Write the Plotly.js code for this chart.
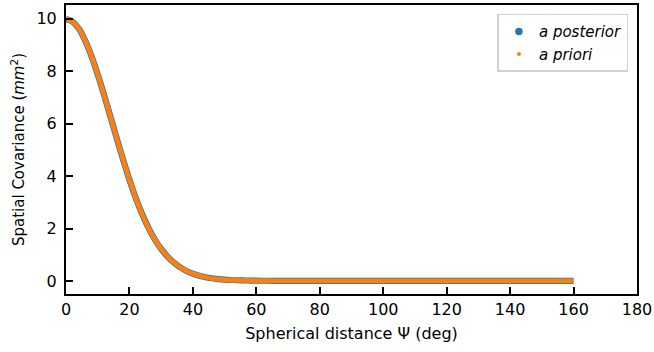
<!DOCTYPE html>
<html>
<head>
<meta charset="utf-8">
<script src="https://cdn.plot.ly/plotly-3.0.1.min.js"></script>
<style>html,body{margin:0;padding:0;background:#fff;}#chart{width:654px;height:352px;}</style>
</head>
<body>
<div id="chart"></div>
<script>
// Spherical distance (deg)
const psi = [0,2,4,6,8,10,12,14,16,18,20,22,24,26,28,30,32,34,36,38,40,42,44,46,48,50,52,54,56,58,60,65,70,80,90,100,110,120,130,140,150,160];
// a posteriori covariance (mm^2)
const covPosterior = [10.00,9.90,9.63,9.18,8.59,7.88,7.10,6.27,5.44,4.63,3.86,3.16,2.55,2.02,1.58,1.22,0.93,0.70,0.52,0.38,0.28,0.20,0.14,0.10,0.07,0.05,0.035,0.025,0.017,0.012,0.008,0.004,0.002,0,0,0,0,0,0,0,0,0];
// a priori covariance (mm^2)
const covPrior = [10.00,9.90,9.63,9.18,8.59,7.88,7.10,6.27,5.44,4.63,3.86,3.16,2.55,2.02,1.58,1.22,0.93,0.70,0.52,0.38,0.28,0.20,0.14,0.10,0.07,0.05,0.035,0.025,0.017,0.012,0.008,0.004,0.002,0,0,0,0,0,0,0,0,0];
const seriesNames = ['<i>a posterior</i>', '<i>a priori</i>'];
const xTicks = [0,20,40,60,80,100,120,140,160,180];
const yTicks = [0,2,4,6,8,10];

const blue = '#1f77b4', orange = '#ff7f0e';
const fam = 'DejaVu Sans, sans-serif';
const tickFont = {family: fam, size: 16, color: '#000'};

const traces = [
  {x: psi, y: covPosterior, mode: 'lines', line: {color: blue, width: 6.2, shape: 'spline', smoothing: 0.8}, showlegend: false, hoverinfo: 'skip'},
  {x: psi, y: covPrior, mode: 'lines', line: {color: orange, width: 4.8, shape: 'spline', smoothing: 0.8}, showlegend: false, hoverinfo: 'skip'},
  {x: [null], y: [null], mode: 'markers', name: seriesNames[0], marker: {color: blue, size: 7.5}},
  {x: [null], y: [null], mode: 'markers', name: seriesNames[1], marker: {color: orange, size: 4}}
];

const axisCommon = {
  showline: true, linecolor: '#000', linewidth: 2, mirror: true,
  ticks: 'inside', ticklen: 7, tickwidth: 2, tickcolor: '#000',
  showgrid: false, zeroline: false, tickfont: tickFont
};

const layout = {
  width: 654, height: 352,
  margin: {l: 66, r: 17, t: 5, b: 58},
  paper_bgcolor: '#fff', plot_bgcolor: '#fff',
  font: tickFont,
  xaxis: Object.assign({}, axisCommon, {
    range: [0, 180], tickvals: xTicks, ticktext: xTicks.map(String),
    title: {text: 'Spherical distance Ψ (deg)', font: {family: fam, size: 16, color: '#000'}, standoff: 10}
  }),
  yaxis: Object.assign({}, axisCommon, {
    range: [-0.5, 10.53], tickvals: yTicks, ticktext: yTicks.map(String),
    ticklabelstandoff: 4,
    title: {text: 'Spatial Covariance (<i>mm</i><sup>2</sup>)', font: {family: fam, size: 15, color: '#000'}, standoff: 8}
  }),
  legend: {
    x: 0.985, y: 0.97, xanchor: 'right', yanchor: 'top',
    bgcolor: 'rgba(255,255,255,0.8)', bordercolor: '#d0d0d0', borderwidth: 1.5,
    font: {family: fam, size: 15, color: '#000'},
    itemwidth: 30, tracegroupgap: 4
  },
  showlegend: true
};

Plotly.newPlot('chart', traces, layout, {displayModeBar: false, staticPlot: true});
</script>
</body>
</html>
